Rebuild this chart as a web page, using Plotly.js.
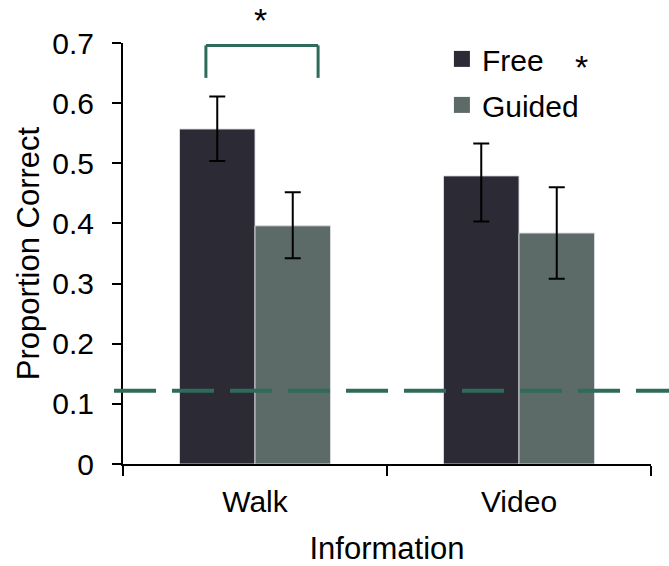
<!DOCTYPE html>
<html>
<head>
<meta charset="utf-8">
<script src="https://cdn.plot.ly/plotly-3.0.1.min.js"></script>
<style>html,body{margin:0;padding:0;background:#fff;}#chart{width:669px;height:566px;}</style>
</head>
<body>
<div id="chart"></div>
<script>
// ---- data ----
const categories = ['Walk', 'Video'];
const seriesNames = ['Free', 'Guided'];
const freeValues = [0.557, 0.479];
const freeErrPlus = [0.054, 0.054];
const freeErrMinus = [0.053, 0.076];
const guidedValues = [0.396, 0.384];
const guidedErrPlus = [0.056, 0.076];
const guidedErrMinus = [0.054, 0.076];
const chanceLevel = 0.122;
const yTickValues = [0, 0.1, 0.2, 0.3, 0.4, 0.5, 0.6, 0.7];
const sigMark = '*';

// ---- styling ----
const FONT = 'Liberation Sans, Arial, Helvetica, sans-serif';
const colFree = '#2b2a35';
const colGuided = '#5c6a68';
const colGreen = '#2f6b5a';

const errStyle = {type: 'data', symmetric: false, color: '#000', thickness: 2, width: 8};

const traces = [
  {
    type: 'bar', x: categories, y: freeValues, name: seriesNames[0],
    marker: {color: colFree, line: {color: 'rgba(220,220,225,0.9)', width: 1}},
    error_y: Object.assign({array: freeErrPlus, arrayminus: freeErrMinus}, errStyle),
    showlegend: false
  },
  {
    type: 'bar', x: categories, y: guidedValues, name: seriesNames[1],
    marker: {color: colGuided, line: {color: 'rgba(220,220,225,0.9)', width: 1}},
    error_y: Object.assign({array: guidedErrPlus, arrayminus: guidedErrMinus}, errStyle),
    showlegend: false
  },
  // legend entries
  {type: 'scatter', mode: 'markers', x: [null], y: [null], name: seriesNames[0], legendgroup: 'a',
   marker: {symbol: 'square', size: 16, color: colFree}},
  {type: 'scatter', mode: 'markers', x: [null], y: [null], name: seriesNames[1], legendgroup: 'b',
   marker: {symbol: 'square', size: 16, color: colGuided}}
];

// bracket geometry (in category units / data units)
const brL = -0.186, brR = 0.239, brTop = 0.696, brBot = 0.642;

const layout = {
  width: 669, height: 566,
  margin: {l: 123, r: 18, t: 43, b: 102},
  paper_bgcolor: '#fff', plot_bgcolor: '#fff',
  font: {family: FONT, size: 30, color: '#000'},
  barmode: 'group', bargap: 0.428, bargroupgap: 0,
  showlegend: true,
  legend: {x: 0.604, y: 1.024, xanchor: 'left', yanchor: 'top', bgcolor: 'rgba(0,0,0,0)',
           font: {family: FONT, size: 30, color: '#000'}, itemsizing: 'trace',
           traceorder: 'grouped', tracegroupgap: 4},
  xaxis: {
    type: 'category', showline: true, linecolor: '#000', linewidth: 2,
    ticks: 'outside', tickson: 'boundaries', ticklen: 10, tickwidth: 2, tickcolor: '#000',
    showgrid: false, zeroline: false, ticklabelstandoff: 10,
    tickfont: {family: FONT, size: 30, color: '#000'},
    title: {text: 'Information', font: {family: FONT, size: 31, color: '#000'}, standoff: 22}
  },
  yaxis: {
    range: [0, 0.7], tickvals: yTickValues, ticktext: yTickValues.map(v => String(v)),
    showline: true, linecolor: '#000', linewidth: 2,
    ticks: 'outside', ticklen: 9, tickwidth: 2, tickcolor: '#000',
    showgrid: false, zeroline: false, ticklabelstandoff: 12,
    tickfont: {family: FONT, size: 30, color: '#000'},
    title: {text: 'Proportion Correct', font: {family: FONT, size: 31, color: '#000'}, standoff: 3}
  },
  shapes: [
    {type: 'line', xref: 'paper', yref: 'y', x0: -0.017, x1: 1.04, y0: chanceLevel, y1: chanceLevel,
     line: {color: colGreen, width: 4, dash: '42px,16px'}, layer: 'above'},
    {type: 'line', xref: 'x', yref: 'y', x0: brL, x1: brL, y0: brBot, y1: brTop, line: {color: colGreen, width: 3}},
    {type: 'line', xref: 'x', yref: 'y', x0: brL, x1: brR, y0: brTop, y1: brTop, line: {color: colGreen, width: 3}},
    {type: 'line', xref: 'x', yref: 'y', x0: brR, x1: brR, y0: brBot, y1: brTop, line: {color: colGreen, width: 3}}
  ],
  annotations: [
    {text: sigMark, xref: 'paper', yref: 'paper', x: 0.2595, y: 1.055, xanchor: 'center', yanchor: 'middle',
     showarrow: false, font: {family: FONT, size: 34, color: '#000'}},
    {text: sigMark, xref: 'paper', yref: 'paper', x: 0.869, y: 0.943, xanchor: 'center', yanchor: 'middle',
     showarrow: false, font: {family: FONT, size: 34, color: '#000'}}
  ]
};

Plotly.newPlot('chart', traces, layout, {displayModeBar: false, staticPlot: true});
</script>
</body>
</html>
